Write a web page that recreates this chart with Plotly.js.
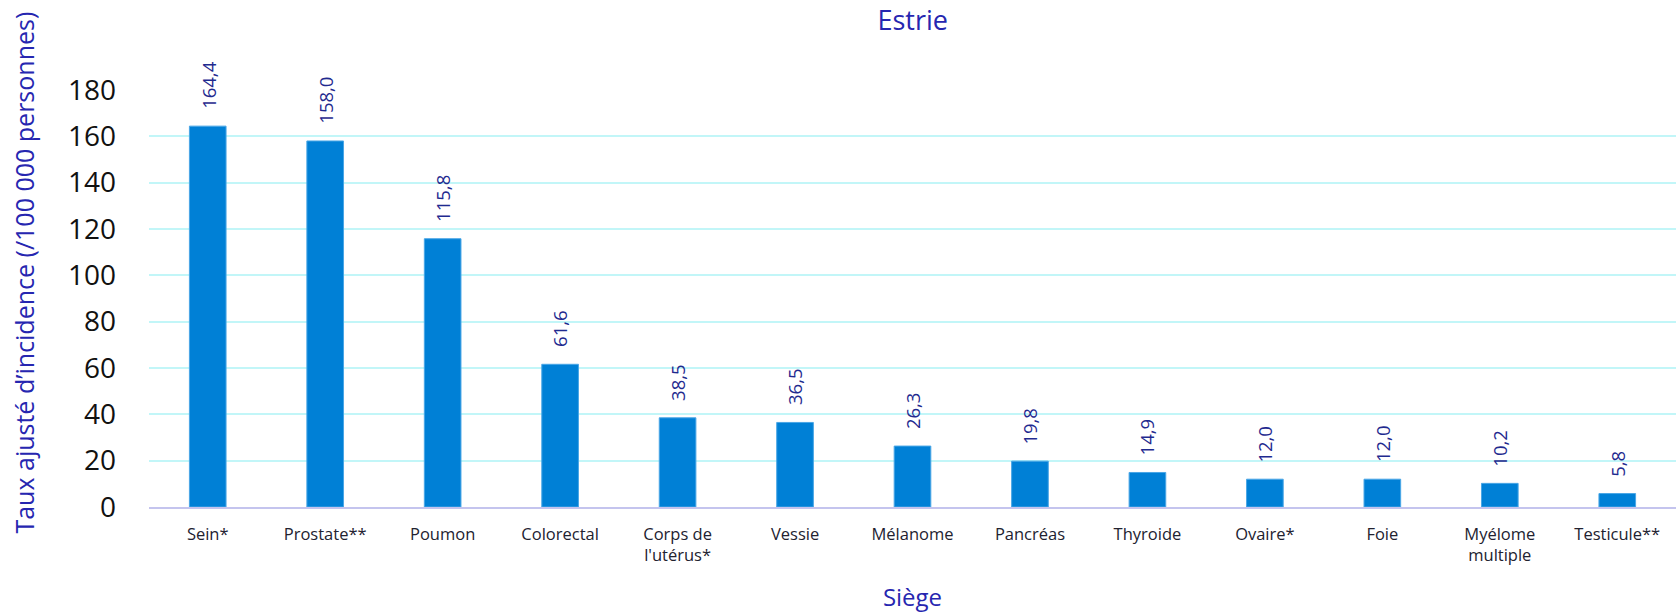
<!DOCTYPE html>
<html>
<head>
<meta charset="utf-8">
<script src="https://cdn.plot.ly/plotly-3.0.1.min.js"></script>
<style>
  html, body { margin: 0; padding: 0; background: #ffffff; }
  #chart { width: 1676px; height: 613px; }
</style>
</head>
<body>
<div id="chart"></div>
<script>
// Data
const categories = [
  "Sein*", "Prostate**", "Poumon", "Colorectal", "Corps de<br>l'utérus*",
  "Vessie", "Mélanome", "Pancréas", "Thyroide", "Ovaire*", "Foie",
  "Myélome<br>multiple", "Testicule**"
];
const values = [164.4, 158.0, 115.8, 61.6, 38.5, 36.5, 26.3, 19.8, 14.9, 12.0, 12.0, 10.2, 5.8];
const yTicks = [0, 20, 40, 60, 80, 100, 120, 140, 160, 180];

const chartTitle = "Estrie";
const xTitle = "Siège";
const yTitle = "Taux ajusté d’incidence (/100 000 personnes)";

const FONT = "'Open Sans', 'Noto Sans', sans-serif";
const labelColor = "#1f2a8f";
const blueTitle = "#2626b0";

const labels = values.map(v => v.toFixed(1).replace('.', ','));

const trace = {
  type: 'bar',
  x: categories,
  y: values,
  marker: { color: '#0080d6', line: { color: '#4aa6e6', width: 1 } },
  hoverinfo: 'x+y',
  cliponaxis: false
};

const annotations = categories.map((c, i) => ({
  x: c,
  y: values[i],
  xref: 'x',
  yref: 'y',
  text: labels[i],
  showarrow: false,
  textangle: -90,
  xanchor: 'center',
  yanchor: 'bottom',
  yshift: 15,
  font: { family: FONT, size: 18.5, color: labelColor }
}));

// y-axis title, placed as in the reference (slightly above the plot centre)
annotations.push({
  xref: 'paper',
  yref: 'paper',
  x: -0.0819,
  y: 0.562,
  xanchor: 'center',
  yanchor: 'middle',
  text: yTitle,
  showarrow: false,
  textangle: -90,
  font: { family: FONT, size: 25, color: blueTitle }
});

const layout = {
  width: 1676,
  height: 613,
  margin: { l: 149, r: 0, t: 90, b: 106, pad: 0 },
  paper_bgcolor: '#ffffff',
  plot_bgcolor: '#ffffff',
  showlegend: false,
  bargap: 0.688,
  separators: ', ',
  title: {
    text: chartTitle,
    font: { family: FONT, size: 27, color: blueTitle },
    x: 0.5446,
    xanchor: 'center',
    y: 0.966,
    yanchor: 'middle'
  },
  xaxis: {
    type: 'category',
    showgrid: false,
    showline: true,
    linecolor: '#c4c4ee',
    linewidth: 2,
    ticks: '',
    ticklabelstandoff: 11,
    tickfont: { family: FONT, size: 16.5, color: '#222230' },
    title: {
      text: xTitle,
      font: { family: FONT, size: 24, color: blueTitle },
      standoff: 25
    },
    automargin: false,
    fixedrange: true
  },
  yaxis: {
    range: [0, 180],
    tickvals: yTicks,
    ticktext: yTicks.map(String),
    showgrid: true,
    gridcolor: '#c2f6f8',
    gridwidth: 2,
    zeroline: false,
    showline: false,
    ticks: '',
    ticklabelstandoff: 32,
    tickfont: { family: FONT, size: 28, color: '#111111' },
    automargin: false,
    fixedrange: true
  },
  annotations: annotations
};

Plotly.newPlot('chart', [trace], layout, { displayModeBar: false, staticPlot: true });
</script>
</body>
</html>
